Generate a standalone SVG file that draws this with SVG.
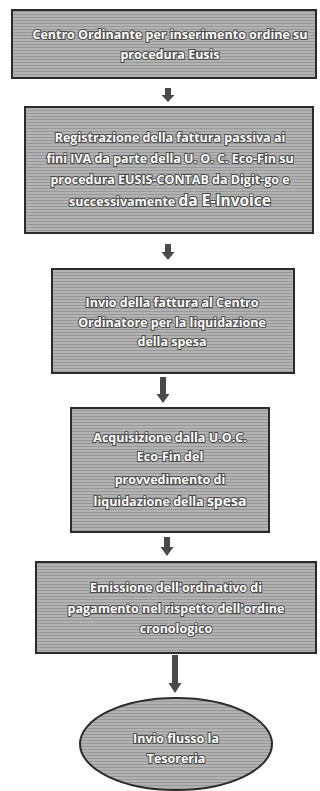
<svg xmlns="http://www.w3.org/2000/svg" width="320" height="791" viewBox="0 0 320 791">
<style>
.box{fill:url(#hatch);stroke:#2b2b2b;stroke-width:2}
.t{font-family:"Open Sans","Liberation Sans",sans-serif;font-weight:bold;font-size:12.5px;fill:#fff;stroke:#4a4a4a;stroke-width:2px;paint-order:stroke;text-anchor:middle}
.arr{fill:#4a4a4a}
</style>
<defs>
<pattern id="hatch" width="4" height="3" patternUnits="userSpaceOnUse">
<rect width="4" height="3" fill="#b2b2b2"/>
<rect y="2" width="4" height="1" fill="#989898"/>
</pattern>
</defs>
<rect width="320" height="791" fill="#fff"/>
<g id="connectors">
<path class="arr" d="M165,88 h6 v7 h3.5 l-6.5,7 l-6.5,-7 h3.5 z"/>
<path class="arr" d="M165,244 h6 v8 h3.5 l-6.5,8 l-6.5,-8 h3.5 z"/>
<path class="arr" d="M160,377 h6 v17 h3.5 l-6.5,9 l-6.5,-9 h3.5 z"/>
<path class="arr" d="M164,537 h6 v10 h3.5 l-6.5,9 l-6.5,-9 h3.5 z"/>
<path class="arr" d="M172,655 h6 v28 h3.5 l-6.5,10 l-6.5,-10 h3.5 z"/>
</g>
<g id="n1">
<rect class="box" x="12" y="10" width="304" height="68"/>
<text class="t" x="170" y="39">Centro Ordinante per inserimento  ordine su</text>
<text class="t" x="170" y="59">procedura Eusis</text>
</g>
<g id="n2">
<rect class="box" x="25" y="107" width="288" height="126"/>
<text class="t" x="170" y="142">Registrazione della fattura passiva  ai</text>
<text class="t" x="170" y="163">fini IVA da parte della U. O. C. Eco-Fin su</text>
<text class="t" x="170" y="184">procedura EUSIS-CONTAB da Digit-go e</text>
<text class="t" x="170" y="206">successivamente <tspan font-size="15.5px">da E-Invoice</tspan></text>
</g>
<g id="n3">
<rect class="box" x="52" y="269" width="242" height="104"/>
<text class="t" x="172" y="307">Invio della fattura al Centro</text>
<text class="t" x="172" y="327">Ordinatore per  la liquidazione</text>
<text class="t" x="172" y="346">della spesa</text>
</g>
<g id="n4">
<rect class="box" x="71" y="408" width="198" height="124"/>
<text class="t" x="170" y="442">Acquisizione dalla U.O.C.</text>
<text class="t" x="170" y="461">Eco-Fin del</text>
<text class="t" x="170" y="484">provvedimento  di</text>
<text class="t" x="170" y="506">liquidazione della <tspan font-size="14px">spesa</tspan></text>
</g>
<g id="n5">
<rect class="box" x="36" y="562" width="280" height="91"/>
<text class="t" x="176" y="592">Emissione dell'ordinativo di</text>
<text class="t" x="176" y="613">pagamento nel rispetto dell'ordine</text>
<text class="t" x="176" y="633">cronologico</text>
</g>
<g id="n6">
<ellipse class="box" cx="176" cy="744" rx="96" ry="46"/>
<text class="t" x="176" y="743">Invio flusso la</text>
<text class="t" x="176" y="763">Tesoreria</text>
</g>
</svg>
